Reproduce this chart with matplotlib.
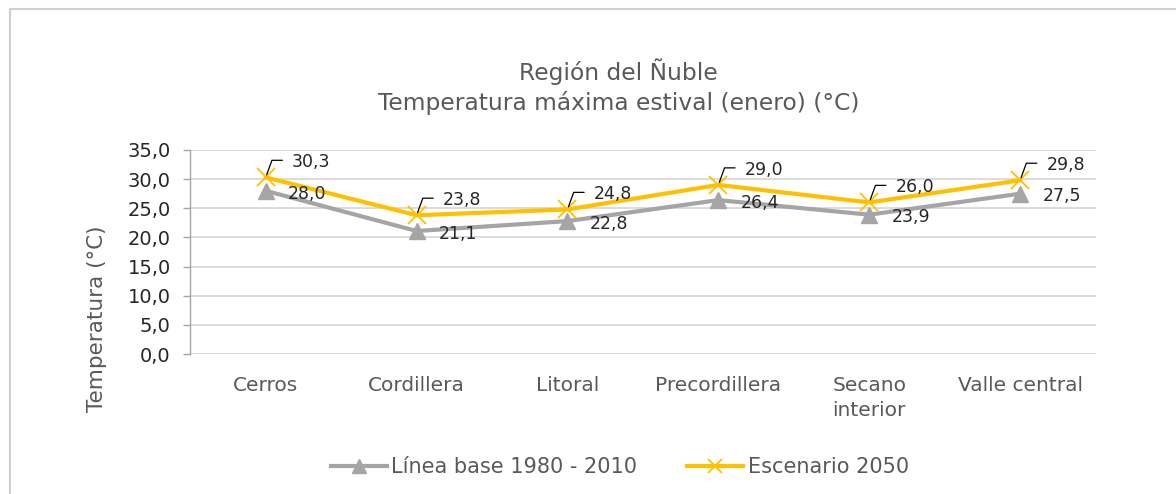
import matplotlib.pyplot as plt
from matplotlib.patches import Rectangle

categorias = ["Cerros", "Cordillera", "Litoral", "Precordillera", "Secano\ninterior", "Valle central"]
linea_base = [28.0, 21.1, 22.8, 26.4, 23.9, 27.5]
escenario_2050 = [30.3, 23.8, 24.8, 29.0, 26.0, 29.8]
yticks = [0, 5, 10, 15, 20, 25, 30, 35]

gris = "#A5A5A5"
naranjo = "#FFC000"
texto = "#595959"

fig = plt.figure(figsize=(11.76, 4.94), dpi=100)
ax = fig.add_axes([0.1618, 0.2834, 0.7698, 0.4130])

# marco del grafico (solo se ve arriba e izquierda)
fig.patches.append(Rectangle((10 / 1176, -0.1), 1.2, 1 - 9 / 494 + 0.1, transform=fig.transFigure,
                             fill=False, edgecolor="#D0D0D0", lw=1.5))

x = list(range(len(categorias)))
ax.plot(x, linea_base, color=gris, lw=3.0, marker="^", markersize=12, label="Línea base 1980 - 2010")
ax.plot(x, escenario_2050, color=naranjo, lw=3.0, marker="x", markersize=13, markeredgewidth=1.3,
        label="Escenario 2050")

def fmt(v):
    return f"{v:.1f}".replace(".", ",")

for i, v in enumerate(linea_base):
    ax.annotate(fmt(v), (i, v), xytext=(16, -2), textcoords="offset points",
                ha="left", va="center", fontsize=12.5, color="#262626")

for i, v in enumerate(escenario_2050):
    ax.annotate(fmt(v), (i, v), xytext=(19, 11), textcoords="offset points",
                ha="left", va="center", fontsize=12.5, color="#262626",
                arrowprops=dict(arrowstyle="-", color="black", lw=0.9, relpos=(0, 0.6),
                                connectionstyle="angle,angleA=0,angleB=70,rad=0",
                                shrinkA=5, shrinkB=2))

ax.set_xlim(-0.5, len(categorias) - 0.5)
ax.set_ylim(0, 35)
ax.set_yticks(yticks)
ax.set_yticklabels([fmt(t) for t in yticks], fontsize=14, color="#262626")
ax.set_xticks(x)
ax.set_xticklabels(categorias, fontsize=14.5, color=texto, linespacing=1.4)
ax.tick_params(axis="x", length=0, pad=16)
ax.tick_params(axis="y", length=5, color="#A6A6A6", width=1, pad=9)

ax.grid(axis="y", color="#D9D9D9", lw=1.3)
ax.set_axisbelow(True)
for s in ["top", "right", "bottom"]:
    ax.spines[s].set_visible(False)
ax.spines["left"].set_color("#A6A6A6")
ax.spines["left"].set_linewidth(1)

fig.text(97 / 1176, 1 - 319 / 494, "Temperatura (°C)", rotation=90, ha="center", va="center",
         fontsize=15.5, color=texto)

fig.text(0.526, 0.855, "Región del Ñuble", ha="center", va="center", fontsize=16.8, color=texto)
fig.text(0.526, 0.792, "Temperatura máxima estival (enero) (°C)", ha="center", va="center",
         fontsize=16.8, color=texto)

leg = fig.legend(loc="center", bbox_to_anchor=(0.527, 0.055), ncol=2, frameon=False,
                 fontsize=15, handlelength=2.7, columnspacing=2.4, handletextpad=0.2,
                 markerscale=0.8)
for t in leg.get_texts():
    t.set_color(texto)

fig.savefig("out.png", dpi=100)
